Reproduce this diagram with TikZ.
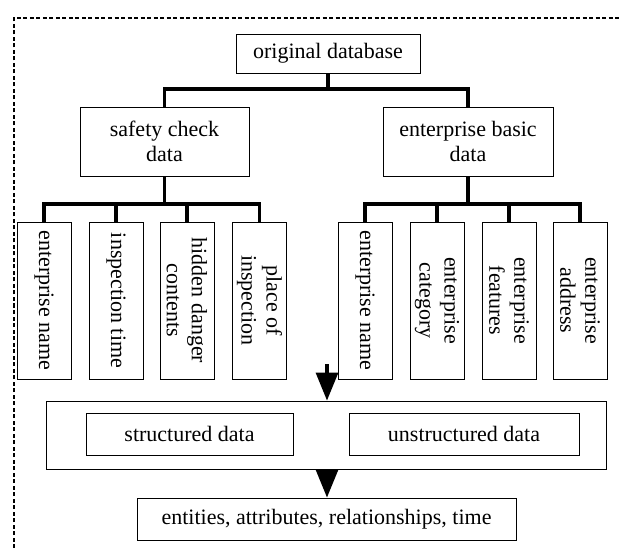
\documentclass[tikz,border=0pt]{standalone}
\usepackage{fontspec}
\setmainfont{Liberation Serif}
\usepackage{tikz}
\usetikzlibrary{arrows.meta}

\tikzset{
  box/.style={draw, line width=0.9pt, inner sep=0pt, align=center,
    font=\fontsize{22}{25}\selectfont},
  leaf/.style={box, rotate=-90, minimum width=157pt, minimum height=54pt},
  link/.style={line width=3.4pt},
  flow/.style={line width=3.2pt, -{Triangle[width=22pt,length=28pt]}}
}

\begin{document}
\begin{tikzpicture}[x=1pt,y=-1pt]
    \useasboundingbox (0,0) rectangle (619,548);
    % frame
    \draw[line width=2.6pt, dash pattern=on 4pt off 2.5pt] (14,548) -- (14,18) -- (619,18);

    \coordinate (bar1) at (0,89);
    \coordinate (bar2) at (0,204);
    \coordinate (split) at (327,364);

    \node[box, minimum width=184pt, minimum height=39pt] (root) at (328,53.5) {original database};
    \node[box, minimum width=169pt, minimum height=69pt] (safety) at (164.5,141.5) {safety check\\data};
    \node[box, minimum width=170pt, minimum height=69pt] (basic) at (468,141.5) {enterprise basic\\data};

    \node[leaf] (s1) at (44,300.5) {enterprise name};
    \node[leaf] (s2) at (116,300.5) {inspection time};
    \node[leaf] (s3) at (187,300.5) {hidden danger\\contents};
    \node[leaf] (s4) at (259.5,300.5) {place of\\inspection};
    \node[leaf] (b1) at (365,300.5) {enterprise name};
    \node[leaf] (b2) at (437,300.5) {enterprise\\category};
    \node[leaf] (b3) at (509,300.5) {enterprise\\features};
    \node[leaf] (b4) at (580,300.5) {enterprise\\address};

    \node[box, minimum width=560pt, minimum height=68pt] (split box) at (326,435) {};
    \node[box, minimum width=207pt, minimum height=42pt] (structured) at (189.5,434) {structured data};
    \node[box, minimum width=230pt, minimum height=42pt] (unstructured) at (464,434) {unstructured data};
    \node[box, minimum width=379pt, minimum height=42pt] (result) at (326.5,519) {entities, attributes, relationships, time};

    \draw[link] (root.south) -- (root.south |- bar1) -| (safety.north);
    \draw[link] (root.south |- bar1) -| (basic.north);
    \draw[link] (safety.south) -- (safety.south |- bar2);
    \foreach \n in {s1,s2,s3,s4}
        \draw[link] (safety.south |- bar2) -| (\n.west);
    \draw[link] (basic.south) -- (basic.south |- bar2);
    \foreach \n in {b1,b2,b3,b4}
        \draw[link] (basic.south |- bar2) -| (\n.west);

    \draw[flow] (split) -- (split |- split box.north);
    \draw[flow] (split |- split box.south) -- (result.north -| split);
\end{tikzpicture}
\end{document}
